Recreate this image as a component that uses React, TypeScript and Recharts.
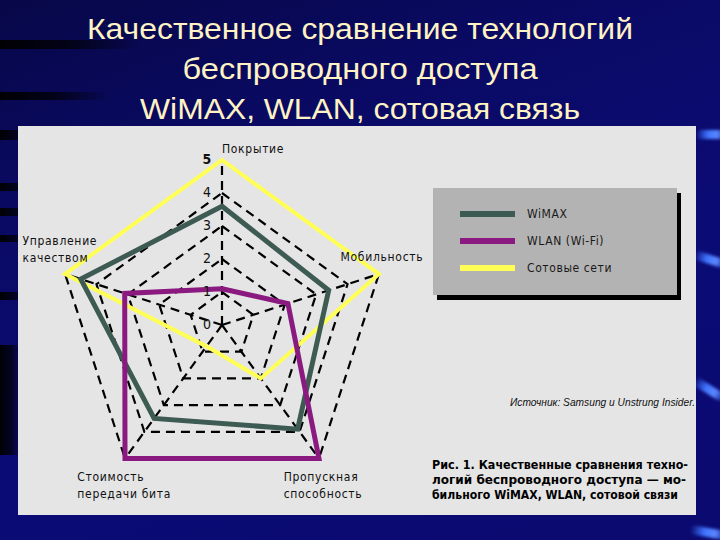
import React from 'react';
import { RadarChart, Radar, PolarGrid, PolarAngleAxis, PolarRadiusAxis } from 'recharts';

const categories = ['Покрытие', 'Мобильность', 'Пропускная способность', 'Стоимость передачи бита', 'Управление качеством'];
const wimaxValues = [3.6, 3.4, 3.9, 3.5, 4.5];
const wlanValues = [1.1, 2.1, 5.0, 5.0, 3.1];
const cellularValues = [5.0, 5.0, 2.0, 0.8, 5.0];
const seriesNames = ['WiMAX', 'WLAN (Wi-Fi)', 'Сотовые сети'];
const radiusTicks = [0, 1, 2, 3, 4, 5];
const titleLines = ['Качественное сравнение технологий', 'беспроводного доступа', 'WiMAX, WLAN, сотовая связь'];
const sourceText = 'Источник: Samsung и Unstrung Insider.';
const captionLines = ['Рис. 1. Качественные сравнения техно-', 'логий беспроводного доступа — мо-', 'бильного WiMAX, WLAN, сотовой связи'];

const data = categories.map((c, i) => ({
  axis: c,
  wimax: wimaxValues[i],
  wlan: wlanValues[i],
  cellular: cellularValues[i],
}));

const COLORS = { wimax: '#3e5b53', wlan: '#8a1a7f', cellular: '#ffff55' };
const LABEL_FONT = "'DejaVu Sans Condensed', 'Liberation Sans', Arial, sans-serif";

const labelOffsets = [
  { dx: 0, dy: 1 },
  { dx: -46, dy: -11 },
  { dx: -40, dy: 16 },
  { dx: -43, dy: 16 },
  { dx: -35, dy: -27 },
];

const AngleTick = (props: any) => {
  const { x, y, payload } = props;
  const idx = categories.indexOf(payload.value);
  const off = labelOffsets[idx] || { dx: 0, dy: 0 };
  const text: string = payload.value;
  const sp = text.indexOf(' ');
  const lines = sp > 0 ? [text.slice(0, sp), text.slice(sp + 1)] : [text];
  return (
    <text x={x + off.dx} y={y + off.dy} textAnchor="start" fill="#111" fontSize={12} fontFamily={LABEL_FONT} letterSpacing={0.7}>
      {lines.map((l, i) => (
        <tspan key={i} x={x + off.dx} dy={i === 0 ? 0 : 17}>{l}</tspan>
      ))}
    </text>
  );
};

const RadiusTick = (props: any) => {
  const { x, y, payload } = props;
  return (
    <text x={x - 15} y={y + 4} textAnchor="middle" fill="#111" fontSize={14} fontFamily={LABEL_FONT} fontWeight={payload.value === 5 ? 700 : 400}>
      {payload.value}
    </text>
  );
};

const Streak = ({ top, left, width, rot }: { top: number; left: number; width: number; rot: number }) => (
  <div style={{
    position: 'absolute', top, left, width, height: 9, borderRadius: 5,
    background: 'linear-gradient(90deg, rgba(60,110,255,0) 0%, #3f74ff 40%, #5b88ff 70%, rgba(60,110,255,0.2) 100%)',
    transform: `rotate(${rot}deg)`, filter: 'blur(1.5px)',
  }} />
);

const Band = ({ top, height, width }: { top: number; height: number; width: number }) => (
  <div style={{
    position: 'absolute', top, left: 0, width, height,
    background: 'linear-gradient(90deg, rgba(0,0,0,0.95) 0%, rgba(0,0,0,0.7) 50%, rgba(0,0,0,0) 100%)',
  }} />
);

export default function App() {
  return (
    <div style={{
      position: 'fixed', left: 0, top: 0, width: 720, height: 540, overflow: 'hidden',
      background: 'linear-gradient(160deg, #070748 0%, #0a0a66 30%, #0b0b76 60%, #0a0a70 100%)',
    }}>
      <Band top={40} height={9} width={140} />
      <Band top={92} height={8} width={110} />
      <Band top={130} height={10} width={30} />
      <Band top={183} height={8} width={30} />
      <Band top={208} height={8} width={30} />
      <Band top={235} height={7} width={30} />
      <Band top={292} height={8} width={30} />
      <Band top={345} height={110} width={22} />
      <Streak top={130} left={696} width={30} rot={0} />
      <Streak top={255} left={694} width={32} rot={18} />
      <Streak top={385} left={692} width={34} rot={32} />
      <Streak top={528} left={690} width={36} rot={10} />

      <div style={{ position: 'absolute', left: 18, top: 126, width: 678, height: 389, background: '#e5e5e5' }} />

      <div style={{ position: 'absolute', left: 0, top: 0 }}>
        <RadarChart width={720} height={540} data={data} cx={222} cy={325} outerRadius={165} margin={{ top: 0, right: 0, bottom: 0, left: 0 }}>
          <PolarGrid gridType="polygon" stroke="#000" strokeWidth={2.2} strokeDasharray="9 6" />
          <PolarAngleAxis dataKey="axis" tick={AngleTick} tickLine={false} axisLine={false} />
          <PolarRadiusAxis angle={90} domain={[0, 5]} ticks={radiusTicks} tickCount={6} axisLine={false} tick={RadiusTick} />
          <Radar name={seriesNames[2]} dataKey="cellular" stroke={COLORS.cellular} strokeWidth={4} fill="none" fillOpacity={0} dot={false} isAnimationActive={false} />
          <Radar name={seriesNames[0]} dataKey="wimax" stroke={COLORS.wimax} strokeWidth={5} fill="none" fillOpacity={0} dot={false} isAnimationActive={false} />
          <Radar name={seriesNames[1]} dataKey="wlan" stroke={COLORS.wlan} strokeWidth={5} fill="none" fillOpacity={0} dot={false} isAnimationActive={false} />
        </RadarChart>
      </div>

      <div style={{ position: 'absolute', left: 433, top: 188, width: 244, height: 107, background: '#b3b3b3', boxShadow: '4px 5px 0 0 #000' }}>
        {[COLORS.wimax, COLORS.wlan, COLORS.cellular].map((c, i) => (
          <React.Fragment key={i}>
            <div style={{ position: 'absolute', left: 27, top: 23 + i * 27, width: 55, height: 6, background: c }} />
            <div style={{ position: 'absolute', left: 94, top: 17 + i * 27, fontFamily: LABEL_FONT, fontSize: 12, letterSpacing: 0.6, color: '#1a1a1a', whiteSpace: 'nowrap', lineHeight: '18px' }}>
              {seriesNames[i]}
            </div>
          </React.Fragment>
        ))}
      </div>

      <svg width={720} height={540} style={{ position: 'absolute', left: 0, top: 0, pointerEvents: 'none' }}>
        {titleLines.map((t, i) => (
          <text key={i} x={360} y={39 + i * 40} textAnchor="middle" fill="#fff3c4" fontSize={30}
            fontFamily="'Liberation Sans', Arial, sans-serif"
            textLength={[546, 355, 440][i]} lengthAdjust="spacingAndGlyphs">{t}</text>
        ))}
        <text x={510} y={406} fill="#111" fontSize={10} fontStyle="italic" fontFamily="'Liberation Sans', Arial, sans-serif"
          textLength={185} lengthAdjust="spacingAndGlyphs">{sourceText}</text>
        {captionLines.map((t, i) => (
          <text key={i} x={432} y={469 + i * 15} fill="#000" fontSize={13} fontWeight={700}
            fontFamily={LABEL_FONT} textLength={[256, 254, 246][i]} lengthAdjust="spacingAndGlyphs">{t}</text>
        ))}
      </svg>
    </div>
  );
}
